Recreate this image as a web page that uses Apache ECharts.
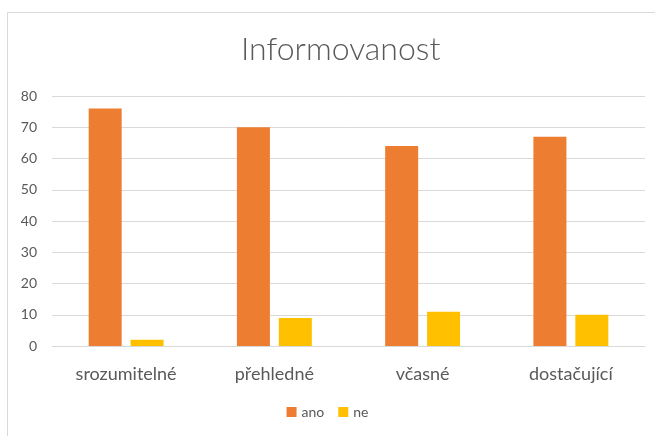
<!DOCTYPE html>
<html>
<head>
<meta charset="utf-8">
<script src="https://cdn.jsdelivr.net/npm/echarts@6/dist/echarts.min.js"></script>
<style>
  html, body { margin: 0; padding: 0; background: #fff; }
  #main { width: 655px; height: 436px; }
</style>
</head>
<body>
<div id="main"></div>
<script>
// data
var categories = ['srozumitelné', 'přehledné', 'včasné', 'dostačující'];
var anoValues = [76, 70, 64, 67];
var neValues = [2, 9, 11, 10];
var yTicks = [0, 10, 20, 30, 40, 50, 60, 70, 80];

var font = 'Lato, "Open Sans", sans-serif';
var myChart = echarts.init(document.getElementById('main'));
var option = {
    backgroundColor: '#fff',
    color: ['#ED7D31', '#FFC000'],
    animation: false,
    title: {
        text: 'Informovanost',
        left: 236,
        top: 29,
        textStyle: {
            color: '#595959',
            fontSize: 32,
            fontWeight: 300,
            fontFamily: font
        }
    },
    // chart frame
    graphic: [{
        type: 'rect',
        shape: { x: 7.5, y: 12.5, width: 700, height: 500 },
        style: { fill: 'none', stroke: '#d9d9d9', lineWidth: 1 },
        silent: true
    }],
    legend: {
        bottom: 12,
        left: 'center',
        itemWidth: 10,
        itemHeight: 10,
        itemGap: 14,
        icon: 'rect',
        textStyle: { color: '#595959', fontSize: 14, fontFamily: font },
        data: ['ano', 'ne']
    },
    grid: {
        left: 52,
        right: 10,
        top: 96,
        bottom: 90,
        containLabel: false
    },
    xAxis: {
        type: 'category',
        data: categories,
        axisTick: { show: false },
        axisLine: { lineStyle: { color: '#d9d9d9', width: 1 } },
        axisLabel: {
            color: '#595959',
            fontSize: 18,
            fontFamily: font,
            margin: 19
        }
    },
    yAxis: {
        type: 'value',
        min: yTicks[0],
        max: yTicks[yTicks.length - 1],
        interval: 10,
        axisLine: { show: false },
        axisTick: { show: false },
        splitLine: { lineStyle: { color: '#d9d9d9', width: 1 } },
        axisLabel: {
            color: '#595959',
            fontSize: 14,
            fontFamily: font,
            margin: 15
        }
    },
    series: [
        {
            name: 'ano',
            type: 'bar',
            data: anoValues,
            barWidth: 33,
            barGap: '27%'
        },
        {
            name: 'ne',
            type: 'bar',
            data: neValues,
            barWidth: 33
        }
    ]
};
myChart.setOption(option);
</script>
</body>
</html>
